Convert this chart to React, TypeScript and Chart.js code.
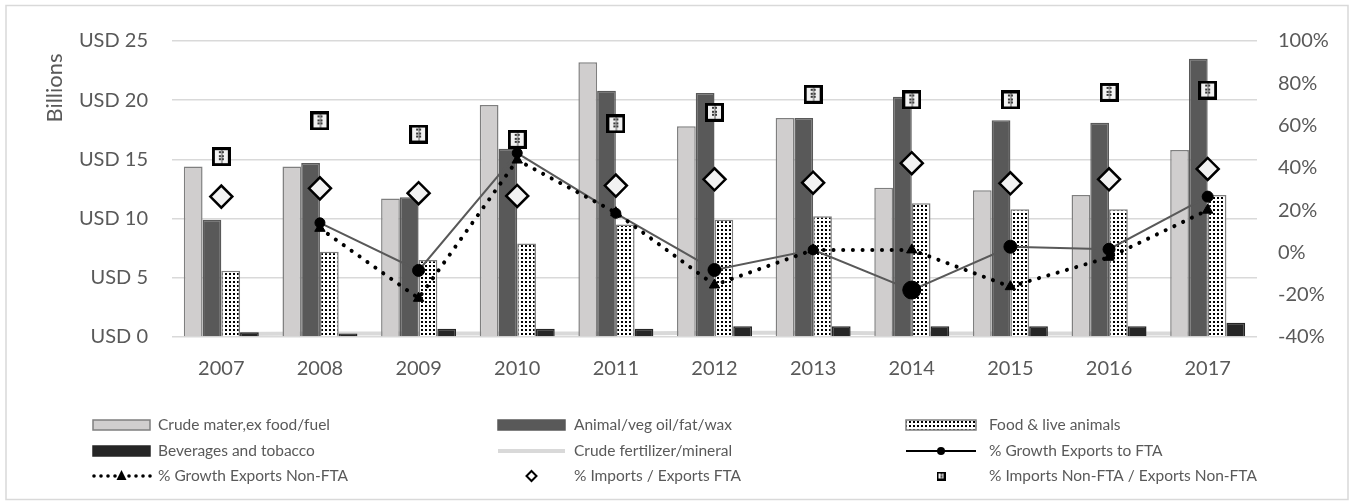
import { useEffect, useRef } from 'react';
import { Chart, registerables } from 'chart.js';

Chart.register(...registerables);

// Category axis
const years = ['2007', '2008', '2009', '2010', '2011', '2012', '2013', '2014', '2015', '2016', '2017'];

// Export values by product group (USD billions)
const crudeMaterials = [14.4, 14.4, 11.7, 19.6, 23.2, 17.8, 18.5, 12.6, 12.4, 12.0, 15.8];
const animalVegOil = [9.9, 14.7, 11.8, 15.9, 20.8, 20.6, 18.5, 20.3, 18.3, 18.1, 23.5];
const foodLiveAnimals = [5.6, 7.2, 6.5, 7.9, 9.5, 9.9, 10.2, 11.3, 10.8, 10.8, 12.0];
const beveragesTobacco = [0.4, 0.3, 0.7, 0.7, 0.7, 0.9, 0.9, 0.9, 0.9, 0.9, 1.2];
const crudeFertilizer = [0.25, 0.3, 0.3, 0.3, 0.3, 0.35, 0.35, 0.3, 0.3, 0.3, 0.3];

// Ratios and growth rates (%)
const growthExportsFta = [null, 14.0, -8.5, 47.0, 18.5, -8.3, 1.2, -17.8, 2.7, 1.5, 26.4];
const growthExportsNonFta = [null, 11.4, -21.7, 43.7, 18.8, -15.4, 1.2, 1.2, -16.2, -2.3, 20.0];
const importsExportsFta = [26.4, 30.3, 28.0, 26.7, 31.6, 34.6, 33.0, 42.2, 32.7, 34.6, 39.5];
const importsExportsNonFta = [45.3, 62.2, 56.0, 53.5, 60.8, 66.3, 74.8, 72.1, 72.1, 75.7, 76.8];

// Circle sizes of the FTA growth markers
const growthFtaRadius = [5, 5, 6, 5, 5, 6.5, 5, 9, 6.5, 6, 5.5];

// Tick labels
const leftTickPrefix = 'USD ';
const rightTickSuffix = '%';

const FONT = 'Lato, "Open Sans", sans-serif';
const TEXT = '#595959';
const GRID = '#d9d9d9';

function makeDotPattern(): CanvasPattern | string {
  const c = document.createElement('canvas');
  c.width = 4;
  c.height = 4;
  const g = c.getContext('2d');
  if (!g) return '#ffffff';
  g.fillStyle = '#ffffff';
  g.fillRect(0, 0, 4, 4);
  g.fillStyle = '#000000';
  g.fillRect(1, 1, 2, 2);
  const p = g.createPattern(c, 'repeat');
  return p || '#ffffff';
}

function makeSquareMarker(size: number): HTMLCanvasElement {
  const c = document.createElement('canvas');
  c.width = size;
  c.height = size;
  const g = c.getContext('2d');
  if (!g) return c;
  g.fillStyle = '#000000';
  g.fillRect(0, 0, size, size);
  const b = Math.max(2, Math.round(size * 0.15));
  g.fillStyle = '#f2f2f2';
  g.fillRect(b, b, size - 2 * b, size - 2 * b);
  // small grid of dots inside
  g.fillStyle = '#3a3a3a';
  const inner = size - 2 * b;
  const step = inner / 3;
  for (let i = 0; i < 2; i++) {
    for (let j = 0; j < 3; j++) {
      const x = b + inner / 2 - step * 0.55 + i * step * 0.55;
      const y = b + step * 0.25 + j * step * 0.85;
      g.fillRect(Math.round(x), Math.round(y), Math.max(1, Math.round(step * 0.45)), Math.max(1, Math.round(step * 0.45)));
    }
  }
  g.fillStyle = '#555555';
  g.fillRect(Math.round(size / 2) - 0.5, b, 1, inner);
  return c;
}

export default function App() {
  const ref = useRef<HTMLCanvasElement | null>(null);

  useEffect(() => {
    const canvas = ref.current;
    if (!canvas) return;
    const dots = makeDotPattern();
    const squareMarker = makeSquareMarker(19);

    // Frame, axis title and the three-column legend under the plot
    const decorations = {
      id: 'decorations',
      beforeDraw(chart: Chart) {
        const ctx = chart.ctx;
        ctx.save();
        ctx.fillStyle = '#ffffff';
        ctx.fillRect(0, 0, chart.width, chart.height);
        ctx.strokeStyle = GRID;
        ctx.lineWidth = 1.5;
        ctx.strokeRect(6, 5.5, 1342, 494);
        ctx.restore();
      },
      afterDraw(chart: Chart) {
        const ctx = chart.ctx;
        ctx.save();
        // y-axis title
        ctx.translate(55, 88);
        ctx.rotate(-Math.PI / 2);
        ctx.font = `22px ${FONT}`;
        ctx.fillStyle = TEXT;
        ctx.textAlign = 'center';
        ctx.textBaseline = 'middle';
        ctx.fillText('Billions', 0, 0);
        ctx.restore();

        const rows = [425, 451, 476];
        const cols = [
          { x0: 93, x1: 150, tx: 158 },
          { x0: 498, x1: 565, tx: 574 },
          { x0: 906, x1: 976, tx: 989 },
        ];
        const entries = [
          { label: 'Crude mater,ex food/fuel', kind: 'box', fill: '#d0cece', stroke: '#7f7f7f' },
          { label: 'Animal/veg oil/fat/wax', kind: 'box', fill: '#595959', stroke: '#595959' },
          { label: 'Food & live animals', kind: 'box', fill: dots, stroke: '#7f7f7f' },
          { label: 'Beverages and tobacco', kind: 'box', fill: '#262626', stroke: '#262626' },
          { label: 'Crude fertilizer/mineral', kind: 'thick' },
          { label: '% Growth Exports to FTA', kind: 'lineCircle' },
          { label: '% Growth Exports Non-FTA', kind: 'dotsTriangle' },
          { label: '% Imports / Exports FTA', kind: 'diamond' },
          { label: '% Imports Non-FTA / Exports Non-FTA', kind: 'square' },
        ];
        ctx.save();
        ctx.font = `15.5px ${FONT}`;
        ctx.textBaseline = 'middle';
        ctx.textAlign = 'left';
        entries.forEach((e: any, i) => {
          const r = rows[Math.floor(i / 3)];
          const c = cols[i % 3];
          const mid = (c.x0 + c.x1) / 2;
          ctx.save();
          if (e.kind === 'box') {
            ctx.fillStyle = e.fill;
            ctx.fillRect(c.x0, r - 5, c.x1 - c.x0, 10);
            ctx.strokeStyle = e.stroke;
            ctx.lineWidth = 1.5;
            ctx.strokeRect(c.x0, r - 5, c.x1 - c.x0, 10);
          } else if (e.kind === 'thick') {
            ctx.strokeStyle = GRID;
            ctx.lineWidth = 4;
            ctx.beginPath();
            ctx.moveTo(c.x0, r);
            ctx.lineTo(c.x1, r);
            ctx.stroke();
          } else if (e.kind === 'lineCircle') {
            ctx.strokeStyle = '#000000';
            ctx.lineWidth = 2;
            ctx.beginPath();
            ctx.moveTo(c.x0, r);
            ctx.lineTo(c.x1, r);
            ctx.stroke();
            ctx.fillStyle = '#000000';
            ctx.beginPath();
            ctx.arc(mid, r, 4, 0, Math.PI * 2);
            ctx.fill();
          } else if (e.kind === 'dotsTriangle') {
            ctx.fillStyle = '#000000';
            for (let x = c.x0 + 1; x <= c.x1; x += 7) {
              if (Math.abs(x - mid) < 5) continue;
              ctx.beginPath();
              ctx.arc(x, r, 1.8, 0, Math.PI * 2);
              ctx.fill();
            }
            ctx.beginPath();
            ctx.moveTo(mid, r - 6);
            ctx.lineTo(mid + 5, r + 4);
            ctx.lineTo(mid - 5, r + 4);
            ctx.closePath();
            ctx.fill();
          } else if (e.kind === 'diamond') {
            ctx.fillStyle = '#ffffff';
            ctx.strokeStyle = '#000000';
            ctx.lineWidth = 2;
            ctx.beginPath();
            ctx.moveTo(mid, r - 5);
            ctx.lineTo(mid + 5, r);
            ctx.lineTo(mid, r + 5);
            ctx.lineTo(mid - 5, r);
            ctx.closePath();
            ctx.fill();
            ctx.stroke();
          } else if (e.kind === 'square') {
            ctx.drawImage(makeSquareMarker(9), mid - 4.5, r - 4.5);
          }
          ctx.restore();
          ctx.fillStyle = TEXT;
          ctx.fillText(e.label, c.tx, r);
        });
        ctx.restore();
      },
    };

    const barCommon = {
      type: 'bar' as const,
      yAxisID: 'y',
      categoryPercentage: 0.76,
      barPercentage: 1.0,
      borderWidth: 1.5,
      order: 5,
    };

    const chart = new Chart(canvas, {
      type: 'bar',
      data: {
        labels: years,
        datasets: [
          {
            ...barCommon,
            label: 'Crude mater,ex food/fuel',
            data: crudeMaterials,
            backgroundColor: '#d0cece',
            borderColor: '#7f7f7f',
          },
          {
            ...barCommon,
            label: 'Animal/veg oil/fat/wax',
            data: animalVegOil,
            backgroundColor: '#595959',
            borderColor: '#595959',
          },
          {
            ...barCommon,
            label: 'Food & live animals',
            data: foodLiveAnimals,
            backgroundColor: dots as any,
            borderColor: '#7f7f7f',
          },
          {
            ...barCommon,
            label: 'Beverages and tobacco',
            data: beveragesTobacco,
            backgroundColor: '#262626',
            borderColor: '#262626',
          },
          {
            type: 'line',
            label: 'Crude fertilizer/mineral',
            data: crudeFertilizer,
            yAxisID: 'y',
            borderColor: GRID,
            borderWidth: 4,
            pointRadius: 0,
            order: 10,
          },
          {
            type: 'line',
            label: '% Growth Exports to FTA',
            data: growthExportsFta,
            yAxisID: 'y1',
            borderColor: '#595959',
            borderWidth: 2,
            pointStyle: 'circle',
            pointRadius: growthFtaRadius,
            pointBackgroundColor: '#000000',
            pointBorderColor: '#000000',
            pointBorderWidth: 1,
            order: 3,
          },
          {
            type: 'line',
            label: '% Growth Exports Non-FTA',
            data: growthExportsNonFta,
            yAxisID: 'y1',
            borderColor: '#000000',
            borderWidth: 4,
            borderDash: [0.1, 9.6],
            borderCapStyle: 'round',
            pointStyle: 'triangle',
            pointRadius: 6,
            pointBackgroundColor: '#000000',
            pointBorderColor: '#000000',
            pointBorderWidth: 1,
            order: 2,
          },
          {
            type: 'line',
            label: '% Imports / Exports FTA',
            data: importsExportsFta,
            yAxisID: 'y1',
            showLine: false,
            pointStyle: 'rectRot',
            pointRadius: 11,
            pointBackgroundColor: '#f2f2f2',
            pointBorderColor: '#000000',
            pointBorderWidth: 2.5,
            order: 1,
          },
          {
            type: 'line',
            label: '% Imports Non-FTA / Exports Non-FTA',
            data: importsExportsNonFta,
            yAxisID: 'y1',
            showLine: false,
            pointStyle: squareMarker,
            pointRadius: 10,
            order: 0,
          },
        ] as any,
      },
      options: {
        animation: false,
        responsive: false,
        layout: { padding: { left: 0, right: 0, top: 41, bottom: 107 } },
        plugins: {
          legend: { display: false },
          tooltip: { enabled: false },
        },
        scales: {
          x: {
            grid: { display: false },
            border: { display: false },
            ticks: { font: { family: FONT, size: 20 }, color: TEXT, padding: 12 },
            afterFit: (s: any) => {
              s.height = 60;
            },
          },
          y: {
            position: 'left',
            min: 0,
            max: 25,
            ticks: {
              stepSize: 5,
              font: { family: FONT, size: 20 },
              color: TEXT,
              padding: 24,
              callback: (v: any) => leftTickPrefix + v,
            },
            grid: { color: GRID, lineWidth: 1.5, drawTicks: false },
            border: { display: false },
            afterFit: (s: any) => {
              s.width = 172;
            },
          },
          y1: {
            position: 'right',
            min: -40,
            max: 100,
            ticks: {
              stepSize: 20,
              font: { family: FONT, size: 20 },
              color: TEXT,
              padding: 21,
              callback: (v: any) => v + rightTickSuffix,
            },
            grid: { display: false, drawTicks: false },
            border: { display: false },
            afterFit: (s: any) => {
              s.width = 94;
            },
          },
        },
      } as any,
      plugins: [decorations as any],
    });

    return () => chart.destroy();
  }, []);

  return (
    <div style={{ position: 'absolute', left: 0, top: 0, width: 1351, height: 504, background: '#ffffff' }}>
      <canvas ref={ref} width={1351} height={504} style={{ display: 'block', width: 1351, height: 504 }} />
    </div>
  );
}
